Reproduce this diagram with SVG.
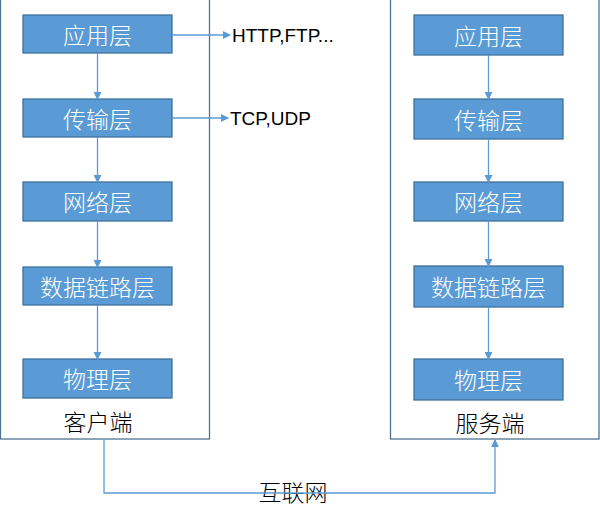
<svg xmlns="http://www.w3.org/2000/svg" width="600" height="520" viewBox="0 0 600 520">
<defs>
<marker id="ah" markerWidth="8" markerHeight="8" refX="7" refY="4" orient="auto" markerUnits="userSpaceOnUse">
<path d="M0,0 L8,4 L0,8 Z" fill="#5B9BD5"/>
</marker>
<style>
.cont{fill:#fff;stroke:#4F7392;stroke-width:1.3}
.box{fill:#5B9BD5;stroke:#41719C;stroke-width:1.3}
.bt{font-family:"Noto Sans CJK SC","Noto Sans",sans-serif;font-size:23px;font-weight:300;fill:#fff;text-anchor:middle;dominant-baseline:central}
.lbl{font-family:"Noto Sans CJK SC","Noto Sans",sans-serif;font-size:23px;font-weight:300;fill:#000;text-anchor:middle}
.proto{font-family:"Liberation Sans","Noto Sans CJK SC",sans-serif;font-size:19px;fill:#000}
.ln{fill:none;stroke:#5B9BD5;stroke-width:1.3}
</style>
</defs>
<rect width="600" height="520" fill="#fff"/>
<g id="client">
<rect class="cont" x="0.5" y="-1" width="209" height="440"/>
<text class="lbl" x="98" y="431">客户端</text>
</g>
<g id="server">
<rect class="cont" x="390.5" y="-1" width="208.5" height="440"/>
<text class="lbl" x="490" y="432">服务端</text>
</g>
<g id="c-app"><rect class="box" x="23" y="15" width="149" height="38"/><text class="bt" x="97.5" y="34">应用层</text></g>
<g id="c-trans"><rect class="box" x="23" y="99" width="149" height="38"/><text class="bt" x="97.5" y="118">传输层</text></g>
<g id="c-net"><rect class="box" x="23" y="182" width="149" height="39"/><text class="bt" x="97.5" y="201">网络层</text></g>
<g id="c-link"><rect class="box" x="23" y="267" width="149" height="38"/><text class="bt" x="97.5" y="286">数据链路层</text></g>
<g id="c-phy"><rect class="box" x="23" y="359" width="149" height="39"/><text class="bt" x="97.5" y="378">物理层</text></g>
<g id="s-app"><rect class="box" x="414" y="15" width="149" height="40"/><text class="bt" x="488.5" y="35">应用层</text></g>
<g id="s-trans"><rect class="box" x="414" y="99" width="149" height="40"/><text class="bt" x="488.5" y="119">传输层</text></g>
<g id="s-net"><rect class="box" x="414" y="182" width="149" height="39"/><text class="bt" x="488.5" y="201">网络层</text></g>
<g id="s-link"><rect class="box" x="414" y="266" width="149" height="41"/><text class="bt" x="488.5" y="286">数据链路层</text></g>
<g id="s-phy"><rect class="box" x="414" y="359" width="149" height="41"/><text class="bt" x="488.5" y="379">物理层</text></g>
<g id="http"><text class="proto" x="232" y="42">HTTP,FTP...</text></g>
<g id="tcp"><text class="proto" x="230" y="125">TCP,UDP</text></g>
<g id="internet"><text class="lbl" x="293" y="501">互联网</text></g>
<g id="connectors">
<line class="ln" x1="97.5" y1="53" x2="97.5" y2="99" marker-end="url(#ah)"/>
<line class="ln" x1="97.5" y1="137" x2="97.5" y2="182" marker-end="url(#ah)"/>
<line class="ln" x1="97.5" y1="221" x2="97.5" y2="267" marker-end="url(#ah)"/>
<line class="ln" x1="97.5" y1="305" x2="97.5" y2="359" marker-end="url(#ah)"/>
<line class="ln" x1="488.5" y1="55" x2="488.5" y2="99" marker-end="url(#ah)"/>
<line class="ln" x1="488.5" y1="139" x2="488.5" y2="182" marker-end="url(#ah)"/>
<line class="ln" x1="488.5" y1="221" x2="488.5" y2="266" marker-end="url(#ah)"/>
<line class="ln" x1="488.5" y1="307" x2="488.5" y2="359" marker-end="url(#ah)"/>
<line class="ln" x1="172" y1="35" x2="230" y2="35" marker-end="url(#ah)"/>
<line class="ln" x1="172" y1="118" x2="228" y2="118" marker-end="url(#ah)"/>
<polyline class="ln" points="104,439 104,493 495,493 495,440" marker-end="url(#ah)"/>
</g>
</svg>
